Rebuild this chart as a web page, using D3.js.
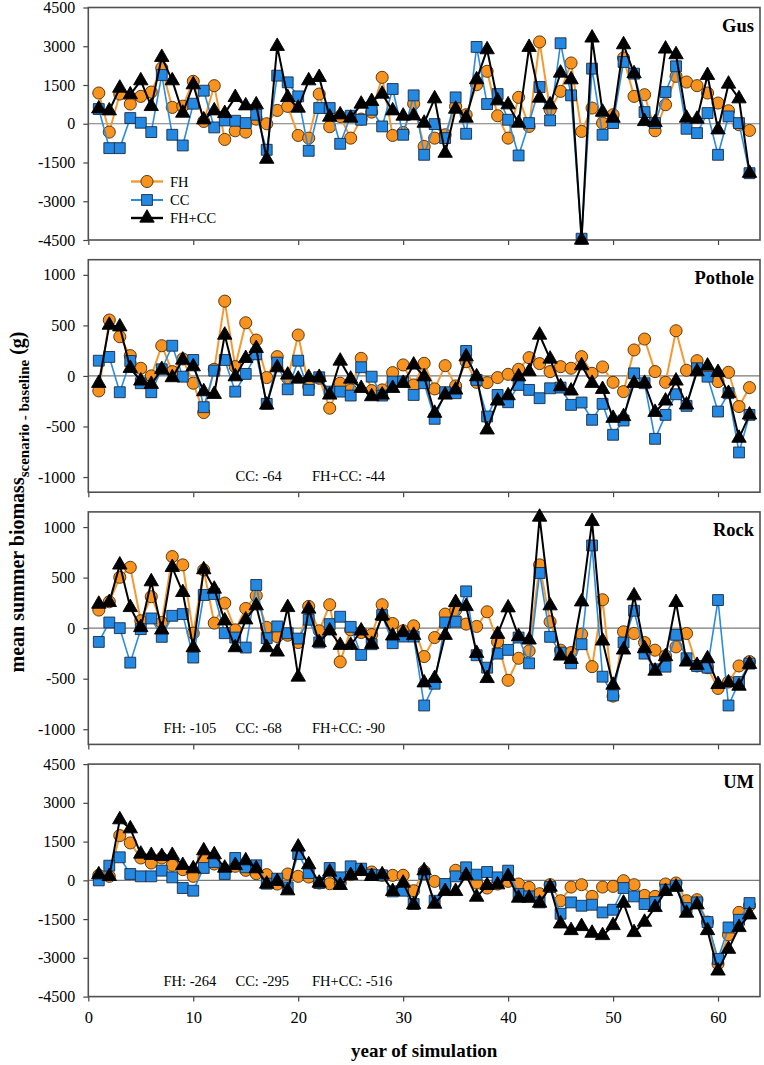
<!DOCTYPE html>
<html><head><meta charset="utf-8">
<script src="https://cdn.jsdelivr.net/npm/d3@7"></script>
<style>
body{margin:0;background:#fff}
svg{display:block}
text{font-family:"Liberation Serif","Times New Roman",serif;fill:#000}
</style>
</head><body>
<svg id="chart" width="764" height="1065"></svg>
<script>
// ---------------- DATA ----------------
const years = d3.range(1, 64);
const seriesNames = ["FH", "CC", "FH+CC"];
const panelNames = ["Gus", "Pothole", "Rock", "UM"];

const gusFH = [1190,-323,1150,763,1060,1228,2160,634,680,1642, 90,1474,-608,-272,-323,180,0,517,672,-452, -556,1150,-116,280,-556,180,450,1797,-452,-336, 776,-879,-556,-427,672,349,1513,2030,310,-556, 1021,-103,3168,543,1254,2353,-297,608,26,349, 2547,1060,1125,-272,737,1836,1616,1474,1190,802, 504,-39,-259];
const gusCC = [569,-944,-944,220,39,-323,1888,-427,-840,776, 1280,-142,129,116,26,349,-1008,1862,1603,1060, -1047,608,608,-776,310,155,543,-103,1345,-427, 1099,-1202,-13,-556,1021,-388,2974,763,1150,155, -1228,26,1422,129,3116,1099,-4450,2133,-427,26, 2392,1940,452,26,1228,2224,-194,-362,414,-1202, 284,26,-1914];
const gusFHCC = [582,504,1383,1125,1668,672,2573,1668,414,1513, 155,504,401,1021,698,737,-1370,3000,1021,608, 1668,1797,259,349,220,763,866,1150,504,300, 310,26,970,-1138,569,220,1707,2870,892,737, 26,2960,996,737,1965,1707,-4500,3323,452,220, 3064,1940,90,50,2896,2677,220,180,1875,-233, 1539,970,-1914];

const potholeFH = [-148,553,388,201,76,0,299,43,168,-72, -362,66,740,92,526,355,-16,191,-23,405, -105,-23,-319,-72,-138,174,-145,-138,33,109, -89,125,-128,102,-99,141,-63,-66,-16,16, 66,181,122,43,92,76,191,26,89,-63, -155,257,365,43,-63,447,56,151,43,-56, 36,-303,-115];
const potholeCC = [151,188,-161,148,-72,-161,66,299,-7,158, -309,53,158,-155,20,214,-276,132,-132,151, -138,-13,-155,-155,-194,86,-7,-194,-56,-56, -188,-72,-424,-161,-171,247,-39,-401,-188,-260, -89,-138,-220,-122,-115,-286,-263,-434,-276,-582, -441,26,-72,-622,-385,-181,-296,76,-7,-352, -171,-757,-385];
const potholeFHCC = [-72,503,487,76,-49,-82,66,-16,158,92, -155,-181,405,-7,174,273,-286,82,10,-30, -13,-13,-188,148,-30,-122,-204,-188,-122,-72, 109,-7,-368,-188,-138,191,-7,-533,-247,-194, -7,43,405,168,-105,-148,102,-72,-132,-418, -401,-72,-72,-359,-247,-49,-286,43,99,36, -171,-615,-385];

const rockFH = [179,261,503,602,73,311,56,708,626,-50, 576,50,248,-17,195,321,7,-83,-70,-142, 215,-26,232,-334,-17,-43,-63,232,46,-26, 23,-281,-93,139,179,40,17,162,-136,-516, -298,-225,626,63,-218,-242,-60,-381,281,-672, -36,-53,-142,-218,-275,-185,-53,-374,-391,-596, -533,-374,-331];
const rockCC = [-136,56,0,-341,-10,96,-86,122,139,-291, 328,338,-50,-93,-192,427,-99,17,-50,-103, 83,-142,40,113,13,-265,-159,129,-149,-83, -83,-765,-550,56,63,364,-268,-391,-252,-215, -93,-348,546,-86,-242,-348,-159,818,-480,-665, -142,172,-252,-407,-381,-66,-298,-374,-391,278, -765,-533,-351];
const rockFHCC = [238,255,626,205,7,460,-17,602,354,-192, 579,387,73,-192,83,222,-192,-235,205,-483, 189,-142,-26,-169,-169,-26,-159,122,-76,-43, -70,-540,-497,-70,255,215,-248,-497,-60,202, -83,-116,1099,222,-275,-308,261,1056,-126,-563, -215,321,-202,-424,-281,255,-334,-367,-301,-556, -540,-573,-357];

const umFH = [194,155,1733,1448,866,672,866,582,414,155, 840,634,414,543,388,259,220,-142,246,155, 129,-103,-129,-103,220,414,323,194,194,194, -401,349,-39,-168,388,246,-103,-297,-142,-39, -142,-272,-517,-168,-789,-259,-168,-621,-259,-233, -13,-168,-582,-621,-142,-103,-789,-750,-1616,-3233, -2108,-1241,-970];
const umCC = [0,569,892,246,155,155,375,116,-297,-401, 478,711,246,866,504,582,-129,65,-272,1021, 284,-103,478,116,543,453,220,194,-427,-401, -918,246,-789,-142,155,504,220,323,116,375, -530,-621,-853,-259,-1293,-853,-983,-944,-1241,-1138, -297,-621,-918,-840,-362,-207,-1073,-853,-1616,-3039, -1823,-1526,-879];
const umFHCC = [220,155,2350,2000,1021,970,931,970,582,453, 1150,996,478,582,763,453,-142,-39,-401,1293, 608,-103,323,-194,194,349,155,220,-427,-103, -944,375,-918,-427,-427,194,-647,-194,-168,155, -685,-685,-879,-259,-1681,-1940,-1784,-2043,-2133,-1746, -879,-2017,-1616,-1047,-427,-259,-1267,-944,-1940,-3504, -2664,-1823,-1332];

const bigTicks = [-4500,-3000,-1500,0,1500,3000,4500];
const smallTicks = [-1000,-500,0,500,1000];
const xTicks = [0,10,20,30,40,50,60];

const potholeNotes = ["CC: -64", "FH+CC: -44"];
const rockNotes = ["FH: -105", "CC: -68", "FH+CC: -90"];
const umNotes = ["FH: -264", "CC: -295", "FH+CC: -516"];

// ---------------- LAYOUT ----------------
const panels = [
  {name: panelNames[0], data: [gusFH, gusCC, gusFHCC], domain: [-4500, 4500], ticks: bigTicks, notes: []},
  {name: panelNames[1], data: [potholeFH, potholeCC, potholeFHCC], domain: [-1150, 1150], ticks: smallTicks, notes: potholeNotes, noteSlots: [1, 2]},
  {name: panelNames[2], data: [rockFH, rockCC, rockFHCC], domain: [-1150, 1150], ticks: smallTicks, notes: rockNotes, noteSlots: [0, 1, 2]},
  {name: panelNames[3], data: [umFH, umCC, umFHCC], domain: [-4500, 4500], ticks: bigTicks, notes: umNotes, noteSlots: [0, 1, 2]}
];

const left = 88.3, right = 760;
const top0 = 7.5, pitch = 252.2, ph = 232.5;
const noteX = [163.5, 235.5, 312];

const colors = ["#F7931E", "#2389E3", "#000000"];
const lineColors = ["#F39A33", "#2A8BE0", "#000000"];
const lineWidths = [2, 1.6, 2];
const symbols = [d3.symbolCircle, d3.symbolSquare, d3.symbolTriangle];
const symSizes = [115, 118, 90];
const symStroke = ["#4a2d0a", "#1d2a40", "#000"];

const svg = d3.select("#chart");
const x = d3.scaleLinear().domain([0, 64]).range([left, right]);
const fmt = d => String(d);

panels.forEach((p, i) => {
  const top = top0 + i * pitch;
  const y = d3.scaleLinear().domain(p.domain).range([top + ph, top]);
  const g = svg.append("g");

  // zero line
  g.append("line")
    .attr("x1", left).attr("x2", right)
    .attr("y1", y(0)).attr("y2", y(0))
    .attr("stroke", "#7a7a7a").attr("stroke-width", 1.2);

  // y axis
  const ya = g.append("g").attr("transform", `translate(${left},0)`)
    .call(d3.axisLeft(y).tickValues(p.ticks).tickFormat(fmt).tickSize(5).tickPadding(8));
  ya.select(".domain").remove();
  ya.selectAll(".tick line").attr("stroke", "#444").attr("stroke-width", 1.2);
  ya.selectAll("text").style("font-size", "16px").style("font-family", "'Liberation Serif',serif");

  // x axis
  const xa = g.append("g").attr("transform", `translate(0,${top + ph})`)
    .call(d3.axisBottom(x).tickValues(xTicks).tickFormat(i === 3 ? fmt : () => "").tickSize(5).tickPadding(10));
  xa.select(".domain").remove();
  xa.selectAll(".tick line").attr("stroke", "#444").attr("stroke-width", 1.2);
  xa.selectAll("text").style("font-size", "16.5px").style("font-family", "'Liberation Serif',serif");

  // frame
  g.append("rect")
    .attr("x", left).attr("y", top).attr("width", right - left).attr("height", ph)
    .attr("fill", "none").attr("stroke", "#505050").attr("stroke-width", 1.6);

  // series
  p.data.forEach((vals, s) => {
    const line = d3.line().x((d, k) => x(years[k])).y(d => y(d));
    g.append("path").datum(vals)
      .attr("d", line)
      .attr("fill", "none")
      .attr("stroke", lineColors[s])
      .attr("stroke-width", lineWidths[s])
      .attr("stroke-linejoin", "round");
    g.selectAll(null).data(vals).join("path")
      .attr("transform", (d, k) => `translate(${x(years[k])},${y(d)})`)
      .attr("d", d3.symbol().type(symbols[s]).size(symSizes[s]))
      .attr("fill", colors[s])
      .attr("stroke", symStroke[s])
      .attr("stroke-width", 0.9);
  });

  // panel label
  g.append("text")
    .attr("x", 754).attr("y", top + 24)
    .attr("text-anchor", "end")
    .style("font-size", "18.5px").style("font-weight", "bold")
    .text(p.name);

  // notes
  p.notes.forEach((t, k) => {
    g.append("text")
      .attr("x", noteX[p.noteSlots[k]]).attr("y", top + ph - 11)
      .style("font-size", "14.5px")
      .text(t);
  });
});

// legend in first panel
const legY = [181.5, 200, 218];
seriesNames.forEach((n, s) => {
  const lg = svg.append("g");
  lg.append("line").attr("x1", 131).attr("x2", 163).attr("y1", legY[s]).attr("y2", legY[s])
    .attr("stroke", lineColors[s]).attr("stroke-width", lineWidths[s] + 0.4);
  lg.append("path").attr("transform", `translate(147,${legY[s]})`)
    .attr("d", d3.symbol().type(symbols[s]).size(symSizes[s]))
    .attr("fill", colors[s]).attr("stroke", symStroke[s]).attr("stroke-width", 0.9);
  lg.append("text").attr("x", 170).attr("y", legY[s] + 5)
    .style("font-size", "14.5px").text(n);
});

// axis titles
svg.append("text")
  .attr("x", (left + right) / 2).attr("y", 1057)
  .attr("text-anchor", "middle")
  .style("font-size", "19px").style("font-weight", "bold")
  .text("year of simulation");

const yt = svg.append("text")
  .attr("transform", "translate(24,502) rotate(-90)")
  .attr("text-anchor", "middle")
  .style("font-size", "20px").style("font-weight", "bold");
yt.append("tspan").text("mean summer biomass");
yt.append("tspan").attr("dy", 5).style("font-size", "15px").text("scenario - baseline");
yt.append("tspan").attr("dy", -5).text(" (g)");
</script>
</body></html>
